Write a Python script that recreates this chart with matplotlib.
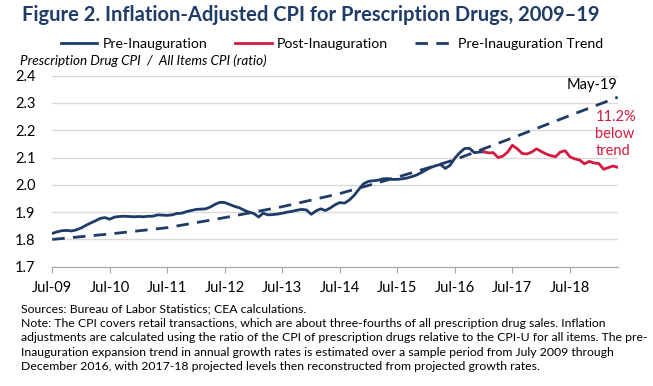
import matplotlib.pyplot as plt
import matplotlib.dates as mdates
import pandas as pd

# Monthly ratio, Jul-2009 .. Jan-2017 (pre) and Jan-2017 .. May-2019 (post)
pre_values = [1.822, 1.828, 1.832, 1.833, 1.831, 1.835, 1.842, 1.852, 1.860, 1.868,
              1.877, 1.880, 1.874, 1.882, 1.884, 1.885, 1.884, 1.883, 1.884, 1.883,
              1.885, 1.885, 1.890, 1.889, 1.888, 1.890, 1.895, 1.896, 1.902, 1.906,
              1.910, 1.911, 1.912, 1.919, 1.929, 1.936, 1.935, 1.928, 1.921, 1.916,
              1.907, 1.900, 1.895, 1.882, 1.896, 1.890, 1.891, 1.893, 1.896, 1.900,
              1.903, 1.907, 1.910, 1.908, 1.892, 1.905, 1.912, 1.906, 1.915, 1.927,
              1.935, 1.933, 1.945, 1.962, 1.985, 2.005, 2.013, 2.015, 2.017, 2.022,
              2.023, 2.020, 2.020, 2.022, 2.025, 2.030, 2.036, 2.045, 2.055, 2.064,
              2.070, 2.075, 2.060, 2.072, 2.098, 2.118, 2.133, 2.134, 2.118, 2.120,
              2.121]
post_values = [2.121, 2.117, 2.118, 2.100, 2.105, 2.120, 2.145, 2.132, 2.115, 2.113,
               2.120, 2.132, 2.122, 2.113, 2.107, 2.103, 2.120, 2.125, 2.103, 2.095,
               2.091, 2.077, 2.086, 2.080, 2.078, 2.057, 2.063, 2.069, 2.064]
trend_dates = ["2009-07", "2010-07", "2011-07", "2012-07", "2013-07", "2014-07",
               "2015-07", "2016-07", "2017-07", "2018-07", "2019-05"]
trend_values = [1.800, 1.820, 1.843, 1.880, 1.920, 1.968, 2.028, 2.092, 2.172, 2.254, 2.321]

pre_dates = pd.date_range("2009-07-01", periods=len(pre_values), freq="MS")
post_dates = pd.date_range("2017-01-01", periods=len(post_values), freq="MS")
trend_dates = pd.to_datetime(trend_dates)

navy = "#1f3b68"
red = "#d31a3f"

plt.rcParams["font.family"] = ["Lato", "DejaVu Sans"]

fig = plt.figure(figsize=(6.53, 3.86), dpi=100)
ax = fig.add_axes([0.080, 0.309, 0.866, 0.495])

ax.plot(pre_dates, pre_values, color=navy, lw=2.0, label="Pre-Inauguration")
ax.plot(post_dates, post_values, color=red, lw=2.0, label="Post-Inauguration")
ax.plot(trend_dates, trend_values, color=navy, lw=2.0, dashes=(4.5, 3),
        label="Pre-Inauguration Trend")

ax.set_ylim(1.7, 2.4)
ax.set_yticks([1.7, 1.8, 1.9, 2.0, 2.1, 2.2, 2.3, 2.4])
ax.set_yticklabels([f"{v:.1f}" for v in ax.get_yticks()])
ax.set_xlim(pd.Timestamp("2009-07-01"), pd.Timestamp("2019-05-01"))
ax.set_xticks(pd.date_range("2009-07-01", "2018-07-01", freq="12MS"))
ax.xaxis.set_major_formatter(mdates.DateFormatter("Jul-%y"))

ax.grid(axis="y", color="#d9d9d9", lw=1)
ax.set_axisbelow(True)
for s in ["left", "right", "top"]:
    ax.spines[s].set_visible(False)
ax.spines["bottom"].set_color("#a6a6a6")
ax.tick_params(axis="y", length=0, labelsize=10.5, pad=12)
ax.tick_params(axis="x", direction="out", length=4, color="#a6a6a6", labelsize=10.5, pad=6)

ax.text(pd.Timestamp("2019-05-01"), 2.365, "May-19", ha="right", va="center", fontsize=10.5)
ax.text(pd.Timestamp("2018-12-10"), 2.186, "11.2%\nbelow\ntrend", ha="left", va="center",
        fontsize=10.5, color=red, linespacing=1.25)

fig.text(0.034, 0.962, "Figure 2. Inflation-Adjusted CPI for Prescription Drugs, 2009\u201319",
         fontsize=14.5, fontweight="bold", color=navy, va="center")
fig.legend(loc="center", bbox_to_anchor=(0.508, 0.885), ncol=3, frameon=False,
           fontsize=10.2, handlelength=2.6, columnspacing=1.9, handletextpad=0.4)
fig.text(0.031, 0.842, "Prescription Drug CPI  /  All Items CPI (ratio)", fontsize=9.7,
         style="italic", va="center")

footer = ("Sources: Bureau of Labor Statistics; CEA calculations.\n"
          "Note: The CPI covers retail transactions, which are about three-fourths of all prescription drug sales. Inflation\n"
          "adjustments are calculated using the ratio of the CPI of prescription drugs relative to the CPI-U for all items. The pre-\n"
          "Inauguration expansion trend in annual growth rates is estimated over a sample period from July 2009 through\n"
          "December 2016, with 2017-18 projected levels then reconstructed from projected growth rates.")
fig.text(0.032, 0.215, footer, fontsize=8.8, va="top", linespacing=1.4)

fig.savefig("out.png", dpi=100)
